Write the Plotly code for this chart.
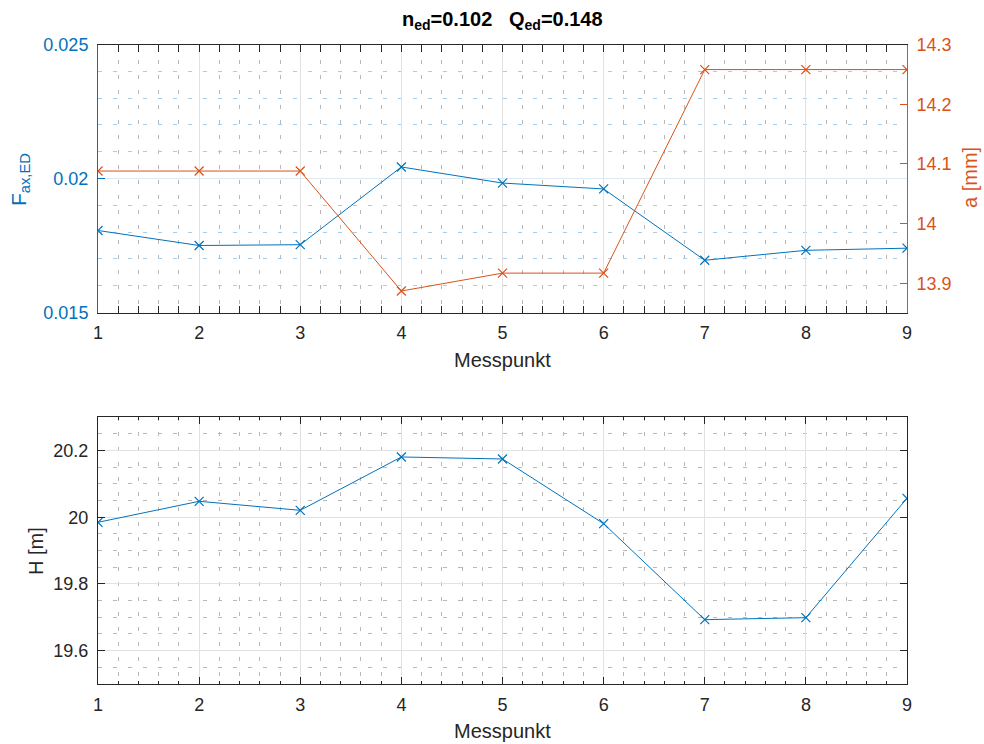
import plotly.graph_objects as go

# Measurement data
messpunkt = [1, 2, 3, 4, 5, 6, 7, 8, 9]
f_ax_ed = [0.01806, 0.01750, 0.01753, 0.02043, 0.01983, 0.01961, 0.01695, 0.01732, 0.01740]
a_mm = [14.088, 14.088, 14.088, 13.887, 13.917, 13.917, 14.258, 14.258, 14.258]
h_m = [19.985, 20.048, 20.021, 20.181, 20.175, 19.981, 19.693, 19.699, 20.057]

# Tick labels
x_ticks = [1, 2, 3, 4, 5, 6, 7, 8, 9]
f_ticks = [0.015, 0.02, 0.025]
f_ticktext = ["0.015", "0.02", "0.025"]
a_ticks = [13.9, 14.0, 14.1, 14.2, 14.3]
a_ticktext = ["13.9", "14", "14.1", "14.2", "14.3"]
h_ticks = [19.6, 19.8, 20.0, 20.2]
h_ticktext = ["19.6", "19.8", "20", "20.2"]

BLUE = "#0072BD"
ORANGE = "#D95319"
DARK = "#262626"
FONT = "Liberation Sans"
W, H = 984, 744
MINOR_DASH = "4px,11px"

fig = go.Figure()

fig.add_trace(go.Scatter(
    x=messpunkt, y=f_ax_ed, mode="lines+markers", xaxis="x", yaxis="y",
    line=dict(color=BLUE, width=1),
    marker=dict(symbol="x-thin", size=9, line=dict(color=BLUE, width=1.2)),
    showlegend=False))
fig.add_trace(go.Scatter(
    x=messpunkt, y=a_mm, mode="lines+markers", xaxis="x", yaxis="y2",
    line=dict(color=ORANGE, width=1),
    marker=dict(symbol="x-thin", size=9, line=dict(color=ORANGE, width=1.2)),
    showlegend=False))
fig.add_trace(go.Scatter(
    x=messpunkt, y=h_m, mode="lines+markers", xaxis="x2", yaxis="y3",
    line=dict(color=BLUE, width=1),
    marker=dict(symbol="x-thin", size=9, line=dict(color=BLUE, width=1.2)),
    showlegend=False))

x0, x1 = 98 / W, 907 / W
top_dom = [1 - 312.5 / H, 1 - 44.5 / H]
bot_dom = [1 - 684 / H, 1 - 417.3 / H]

tickfont = dict(family=FONT, size=18, color=DARK)


def xaxis_cfg(anchor):
    return dict(
        domain=[x0, x1], anchor=anchor, range=[1, 9],
        tickmode="array", tickvals=x_ticks, ticktext=[str(v) for v in x_ticks],
        ticks="inside", ticklen=7, tickcolor=DARK, tickwidth=1,
        showline=True, linecolor=DARK, linewidth=1, mirror="allticks",
        showgrid=True, gridcolor="#e2e2e2", gridwidth=1,
        zeroline=False, tickfont=tickfont, automargin=False,
        ticklabelstandoff=4,
        minor=dict(tickmode="linear", tick0=1, dtick=0.2, ticks="inside",
                   ticklen=3, tickcolor=DARK, showgrid=True,
                   gridcolor="#b8b8b8", griddash=MINOR_DASH, gridwidth=1),
    )


fig.update_layout(
    width=W, height=H,
    margin=dict(l=0, r=0, t=0, b=0),
    paper_bgcolor="white", plot_bgcolor="white",
    font=dict(family=FONT, color=DARK),
    xaxis=xaxis_cfg("y"),
    xaxis2=xaxis_cfg("y3"),
    yaxis=dict(
        domain=top_dom, anchor="x", range=[0.015, 0.025],
        tickmode="array", tickvals=f_ticks, ticktext=f_ticktext,
        ticks="inside", ticklen=7, tickcolor=BLUE,
        showline=True, linecolor=BLUE, linewidth=1, mirror=False,
        showgrid=True, gridcolor="#dde8f2", zeroline=False,
        tickfont=dict(family=FONT, size=18, color=BLUE), automargin=False,
        ticklabelstandoff=5,
        minor=dict(tickmode="linear", tick0=0.015, dtick=0.001, ticks="",
                   showgrid=True, gridcolor="#a9cde9", griddash=MINOR_DASH,
                   gridwidth=1),
    ),
    yaxis2=dict(
        overlaying="y", side="right", anchor="x", range=[13.851, 14.3],
        tickmode="array", tickvals=a_ticks, ticktext=a_ticktext,
        ticks="inside", ticklen=7, tickcolor=ORANGE,
        showline=True, linecolor=ORANGE, linewidth=1,
        showgrid=False, zeroline=False,
        tickfont=dict(family=FONT, size=18, color=ORANGE), automargin=False,
        ticklabelstandoff=5,
    ),
    yaxis3=dict(
        domain=bot_dom, anchor="x2", range=[19.5, 20.3],
        tickmode="array", tickvals=h_ticks, ticktext=h_ticktext,
        ticks="inside", ticklen=7, tickcolor=DARK,
        showline=True, linecolor=DARK, linewidth=1, mirror="allticks",
        showgrid=True, gridcolor="#e2e2e2", zeroline=False,
        tickfont=tickfont, automargin=False, ticklabelstandoff=5,
        minor=dict(tickmode="linear", tick0=19.5, dtick=0.05, ticks="",
                   showgrid=True, gridcolor="#b8b8b8", griddash=MINOR_DASH,
                   gridwidth=1),
    ),
)

cx = (98 + 907) / 2 / W
annotations = [
    dict(text="<b>n<sub>ed</sub>=0.102\u00a0\u00a0\u00a0Q<sub>ed</sub>=0.148</b>",
         x=cx, y=1 - 21 / H, font=dict(size=20, color="black")),
    dict(text="Messpunkt", x=cx, y=1 - 360 / H, font=dict(size=20, color=DARK)),
    dict(text="Messpunkt", x=cx, y=1 - 731 / H, font=dict(size=20, color=DARK)),
    dict(text="F<sub>ax,ED</sub>", x=20 / W, y=1 - 180 / H, textangle=-90,
         font=dict(size=21, color=BLUE)),
    dict(text="a [mm]", x=970 / W, y=1 - 178 / H, textangle=-90,
         font=dict(size=20, color=ORANGE)),
    dict(text="H [m]", x=36 / W, y=1 - 551 / H, textangle=-90,
         font=dict(size=20, color=DARK)),
]
for a in annotations:
    a.update(xref="paper", yref="paper", showarrow=False,
             xanchor="center", yanchor="middle")
    a["font"]["family"] = FONT
fig.update_layout(annotations=annotations)

fig.write_html("out.html")
